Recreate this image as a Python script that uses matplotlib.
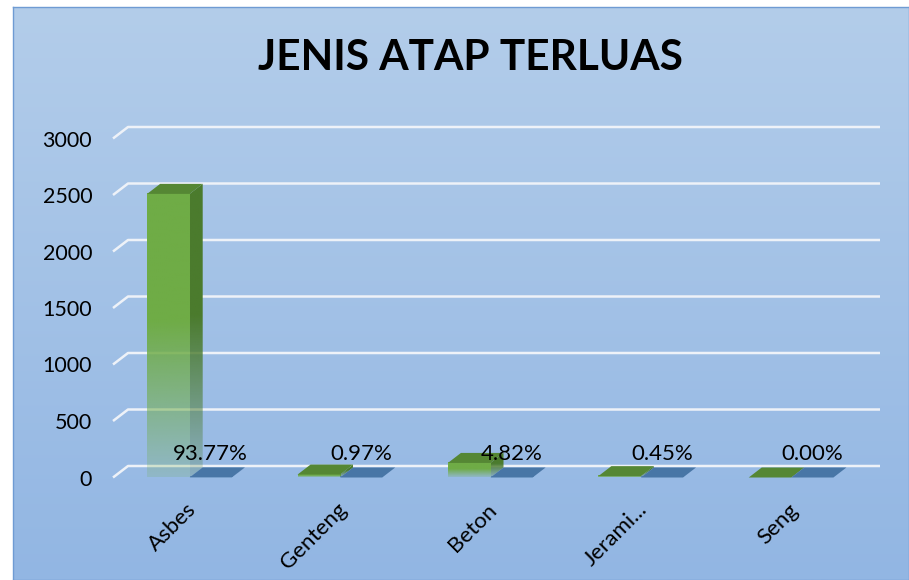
import numpy as np
import matplotlib
matplotlib.use("Agg")
import matplotlib.pyplot as plt
from matplotlib.patches import Polygon
from matplotlib.transforms import ScaledTranslation

plt.rcParams['font.family'] = ['Lato', 'DejaVu Sans']

# ---- data ----
title = "JENIS ATAP TERLUAS"
categories = ["Asbes", "Genteng", "Beton", "Jerami...", "Seng"]
counts = [2510, 26, 129, 12, 0]
shares = [0.9377, 0.0097, 0.0482, 0.0045, 0.0000]
pct_labels = ["93.77%", "0.97%", "4.82%", "0.45%", "0.00%"]
yticks = [0, 500, 1000, 1500, 2000, 2500, 3000]

W, H = 909, 580
fig = plt.figure(figsize=(W / 100, H / 100), dpi=100)
fig.patch.set_facecolor('white')

# background gradient chart area
bg = fig.add_axes([13 / W, 0, 1 - 13 / W, (H - 7) / H], zorder=0)
grad = np.linspace(0, 1, 256)[:, None]
top_c = np.array([0xb3, 0xcd, 0xea]) / 255
bot_c = np.array([0x92, 0xb6, 0xe3]) / 255
img = top_c[None, None, :] * (1 - grad[..., None]) + bot_c[None, None, :] * grad[..., None]
bg.imshow(img, aspect='auto', extent=[0, 1, 0, 1], origin='upper')
bg.set_xlim(0, 1); bg.set_ylim(0, 1)
for s in bg.spines.values():
    s.set_color('#6f9bd3'); s.set_linewidth(1.0)
bg.set_xticks([]); bg.set_yticks([])

ax = fig.add_axes([113 / W, (H - 477.5) / H, 752 / W, 339 / H], zorder=1)
ax.patch.set_alpha(0)
XMIN, XMAX, YMAX = -0.5, 4.5, 3000
DX = 15 / 150.4
DY = 11.5 / 339 * YMAX
dxb = 13 / 150.4
dyb = 10 / 339 * YMAX

# gridlines with perspective
for v in yticks:
    ax.plot([XMIN, XMIN + DX, XMAX + DX], [v, v + DY, v + DY], color='#eef2f8',
            lw=1.8, clip_on=False, zorder=1, solid_capstyle='butt')

def fade_img(rgb, n=200):
    t = np.linspace(0, 1, n)
    a = np.where(t < 0.45, 1.0, 1.0 - (t - 0.45) / 0.55 * 0.82)
    arr = np.zeros((n, 1, 4))
    arr[..., :3] = np.array(matplotlib.colors.to_rgb(rgb))
    arr[..., 0, 3] = a
    return arr

def draw_bar(x0, x1, v, front, side, top, z):
    if v > 0:
        ax.imshow(fade_img(front), extent=[x0, x1, 0, v], aspect='auto',
                  origin='upper', zorder=z, interpolation='bilinear')
        side_poly = Polygon([(x1, 0), (x1 + dxb, dyb), (x1 + dxb, v + dyb), (x1, v)],
                            closed=True, facecolor='none', edgecolor='none')
        ax.add_patch(side_poly)
        im2 = ax.imshow(fade_img(side), extent=[x1, x1 + dxb, 0, v + dyb], aspect='auto',
                        origin='upper', zorder=z, interpolation='bilinear')
        im2.set_clip_path(side_poly)
    ax.add_patch(Polygon([(x0, v), (x1, v), (x1 + dxb, v + dyb), (x0 + dxb, v + dyb)],
                         closed=True, facecolor=top, edgecolor='none', zorder=z + 0.1))

for i, (c, p) in enumerate(zip(counts, shares)):
    g0, g1 = i - 0.273, i + 0.01
    draw_bar(g0, g1, c, '#6fac46', '#4b7b2d', '#558734', 3 + i * 0.5)
    b0, b1 = i + 0.01, i + 0.29
    draw_bar(b0, b1, p, '#4a7bab', '#3d6690', '#4876a6', 3.2 + i * 0.5)
    ax.annotate(pct_labels[i], xy=((b0 + b1) / 2, p), xytext=(0, 17),
                textcoords='offset points', ha='center', va='center',
                fontsize=16, color='black', zorder=10, annotation_clip=False)

ax.set_xlim(XMIN, XMAX)
ax.set_ylim(0, YMAX)
for s in ax.spines.values():
    s.set_visible(False)
ax.set_yticks(yticks)
ax.set_yticklabels([str(v) for v in yticks], fontsize=15.5)
ax.tick_params(axis='y', length=0, pad=15)
ax.set_xticks(range(len(categories)))
ax.set_xticklabels(categories, rotation=45, ha='right', va='center',
                   rotation_mode='anchor', fontsize=16)
ax.tick_params(axis='x', length=0, pad=21)
for lab in ax.get_xticklabels():
    lab.set_transform(lab.get_transform() + ScaledTranslation(5 / 100, 0, fig.dpi_scale_trans))

fig.text(470 / W, 1 - 58 / H, title, ha='center', va='center', fontsize=30.5,
         fontweight='bold', color='black', zorder=5)

fig.savefig('out.png', dpi=100)
